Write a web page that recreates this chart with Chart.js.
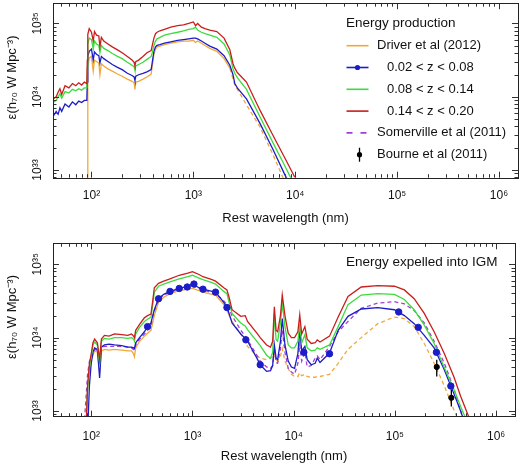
<!DOCTYPE html>
<html lang="en">
<head>
<meta charset="UTF-8">
<title>Energy production and energy expelled into IGM</title>
<script src="https://cdn.jsdelivr.net/npm/chart.js"></script>
<style>
  html, body { margin: 0; padding: 0; background: #fff; }
  .panel { position: absolute; left: 0; width: 520px; }
  #top { top: 0; height: 232px; }
  #bottom { top: 232px; height: 236px; }
</style>
</head>
<body>
<div class="panel" id="top"><canvas id="prodChart" width="520" height="232"></canvas></div>
<div class="panel" id="bottom"><canvas id="igmChart" width="520" height="236"></canvas></div>
<script>
// ---- data (wavelength in nm, values are log10 of epsilon in h70 W Mpc^-3) ----
const xTickExp = [2, 3, 4, 5, 6];
const yTickExp = [33, 34, 35];

// top panel: energy production
const prodWl = [42, 45, 47, 49, 51, 55, 60, 65, 70, 75, 80, 85, 90, 91, 92, 95, 100, 104, 107, 112,
  118, 121, 125, 132, 145, 160, 180, 200, 225, 250, 262, 267, 272, 290, 320, 350, 385, 395, 410, 425,
  440, 470, 520, 600, 700, 800, 900, 1000, 1050, 1100, 1200, 1300, 1450, 1700, 2000, 2280, 2450, 2550, 2700, 3320,
  4490, 6000, 8000, 9900];
const prodRed = [33.97, 34.00, 34.06, 34.11, 34.03, 34.15, 34.12, 34.18, 34.15, 34.19, 34.16, 34.20, 34.18,
  34.50, 34.85, 34.93, 34.88, 34.76, 34.89, 34.84, 34.83, 34.68, 34.81, 34.76, 34.72, 34.68,
  34.64, 34.60, 34.55, 34.50, 34.47, 34.42, 34.48, 34.50, 34.55, 34.60, 34.63, 34.70, 34.80,
  34.86, 34.88, 34.90, 34.92, 34.95, 34.97, 34.98, 35.00, 35.02, 34.97, 35.00, 34.95, 34.93,
  34.91, 34.89, 34.80, 34.64, 34.45, 34.39, 34.33, 34.20, 33.82, 33.48, 33.15, 32.90];
const prodGreen = [33.92, 33.95, 34.00, 34.04, 33.98, 34.07, 34.05, 34.10, 34.08, 34.11, 34.09, 34.12, 34.12,
  34.40, 34.72, 34.80, 34.78, 34.65, 34.76, 34.72, 34.70, 34.60, 34.70, 34.66, 34.63, 34.59,
  34.55, 34.52, 34.47, 34.43, 34.41, 34.36, 34.42, 34.44, 34.47, 34.51, 34.55, 34.60, 34.70,
  34.76, 34.79, 34.81, 34.84, 34.86, 34.88, 34.90, 34.92, 34.93, 34.95, 34.91, 34.88, 34.86,
  34.84, 34.81, 34.72, 34.57, 34.38, 34.32, 34.26, 34.10, 33.73, 33.38, 33.04, 32.78];
const prodBlue = [33.73, 33.80, 33.76, 33.85, 33.80, 33.90, 33.86, 33.93, 33.89, 33.94, 33.92, 33.95, 33.95,
  34.20, 34.55, 34.62, 34.65, 34.50, 34.61, 34.58, 34.56, 34.46, 34.55, 34.52, 34.48, 34.44,
  34.40, 34.37, 34.32, 34.29, 34.27, 34.22, 34.28, 34.30, 34.32, 34.34, 34.37, 34.47, 34.62,
  34.68, 34.70, 34.71, 34.73, 34.75, 34.77, 34.78, 34.79, 34.80, 34.80, 34.79, 34.76, 34.73,
  34.69, 34.65, 34.56, 34.43, 34.30, 34.18, 34.12, 33.97, 33.64, 33.29, 32.92, 32.70];
const prodOrange = [null, null, null, null, null, null, null, null, null, null, null, null, null,
  32.50, 34.40, 34.53, 34.55, 34.35, 34.50, 34.48, 34.46, 34.30, 34.45, 34.42, 34.38, 34.35,
  34.31, 34.28, 34.24, 34.21, 34.19, 34.10, 34.20, 34.21, 34.24, 34.27, 34.31, 34.42, 34.58,
  34.65, 34.68, 34.69, 34.71, 34.73, 34.75, 34.76, 34.76, 34.77, 34.74, 34.76, 34.73, 34.70,
  34.66, 34.62, 34.52, 34.39];
const prodOrangeDashWl = [2280, 2550, 3320, 4490, 6000, 7550, 9000];
const prodOrangeDash = [34.39, 34.16, 33.89, 33.59, 33.22, 32.90, 32.70];

// bottom panel: energy expelled into IGM
const igmWl = [83, 88, 92, 96, 100, 104, 108, 115, 121, 126,
  135, 150, 170, 200, 230, 250, 262, 267, 275, 300,
  335, 360, 389, 405, 420, 462, 520, 600, 740, 900,
  1000, 1160, 1270, 1560, 1690, 2040, 2190, 2300, 2460, 3000,
  3320, 3500, 4330, 4670, 5400, 5900, 6200, 6440, 6700, 6940,
  7400, 7710, 8200, 8830, 9500, 10200, 11000, 11480, 12000, 12900,
  13600, 14900, 16300, 17100, 18200, 22600, 27500, 34400, 46500, 67700,
  98900, 124000, 155000, 195000, 244000, 306000, 384000, 446000, 499000, 540000,
  600000];
const igmRed = [null, 32.60, 33.35, 33.65, 33.78, 33.93, 33.98, 33.93, 33.70, 33.98,
  34.03, 34.02, 34.05, 34.04, 34.03, 34.05, 34.02, 34.00, 34.10, 34.18,
  34.27, 34.30, 34.32, 34.50, 34.68, 34.74, 34.77, 34.80, 34.85, 34.88,
  34.90, 34.86, 34.83, 34.79, 34.77, 34.68, 34.65, 34.55, 34.38, 34.29,
  34.30, 34.22, 34.06, 34.00, 33.90, 33.87, 33.95, 34.42, 34.10, 34.08,
  34.30, 34.58, 34.30, 34.06, 34.00, 34.00, 34.08, 34.31, 34.05, 34.15,
  33.98, 33.92, 33.93, 33.97, 33.94, 34.02, 34.28, 34.56, 34.69, 34.71,
  34.70, 34.65, 34.53, 34.33, 34.08, 33.79, 33.46, 33.20, 33.03, 32.91,
  32.70];
const igmGreen = [null, 32.60, 33.30, 33.60, 33.74, 33.90, 33.94, 33.90, 33.65, 33.95,
  33.99, 33.98, 34.00, 34.00, 33.99, 34.00, 33.98, 33.95, 34.05, 34.14,
  34.22, 34.25, 34.28, 34.45, 34.62, 34.70, 34.73, 34.76, 34.80, 34.83,
  34.85, 34.81, 34.79, 34.75, 34.73, 34.63, 34.60, 34.48, 34.33, 34.20,
  34.16, 34.11, 33.95, 33.89, 33.76, 33.72, 33.80, 34.33, 33.97, 33.95,
  34.20, 34.47, 34.15, 33.90, 33.86, 33.86, 33.95, 34.17, 33.93, 34.04,
  33.86, 33.82, 33.83, 33.86, 33.84, 33.90, 34.15, 34.45, 34.58, 34.60,
  34.59, 34.52, 34.38, 34.17, 33.92, 33.60, 33.29, 33.06, 32.90, 32.75,
  32.55];
const igmBlue = [null, null, 32.70, 33.35, 33.65, 33.80, 33.86, 33.84, 33.45, 33.87,
  33.90, 33.91, 33.90, 33.89, 33.87, 33.87, 33.86, 33.85, 33.93, 34.00,
  34.08, 34.15, 34.20, 34.30, 34.38, 34.53, 34.59, 34.63, 34.67, 34.70,
  34.73, 34.68, 34.66, 34.63, 34.62, 34.48, 34.41, 34.33, 34.20, 34.05,
  33.99, 33.95, 33.72, 33.63, 33.54, 33.55, 33.62, 33.90, 33.72, 33.70,
  33.95, 34.26, 33.90, 33.68, 33.60, 33.58, 33.78, 34.11, 33.82, 33.88,
  33.70, 33.63, 33.65, 33.72, 33.66, 33.79, 34.10, 34.29, 34.39, 34.41,
  34.38, 34.30, 34.19, 34.03, 33.86, 33.57, 33.23, 33.00, 32.80, 32.60,
  null];
const igmPurple = [32.60, 33.10, 33.50, 33.68, 33.74, 33.80, 33.84, 33.83, 33.70, 33.86,
  33.88, 33.88, 33.88, 33.88, 33.87, 33.86, 33.84, 33.83, 33.90, 33.98,
  34.05, 34.10, 34.16, 34.28, 34.36, 34.52, 34.58, 34.62, 34.66, 34.69,
  34.70, 34.67, 34.65, 34.61, 34.60, 34.50, 34.45, 34.38, 34.30, 34.10,
  34.02, 33.97, 33.76, 33.68, 33.60, 33.58, 33.62, 33.85, 33.66, 33.65,
  33.85, 34.10, 33.80, 33.58, 33.53, 33.50, 33.65, 33.90, 33.68, 33.80,
  33.60, 33.62, 33.72, 33.75, 33.70, 33.88, 34.08, 34.22, 34.40, 34.47,
  34.49, 34.46, 34.37, 34.20, 33.95, 33.66, 33.30, 33.00, 32.80, 32.60,
  null];
// Driver et al: solid over the first part of igmWl, dashed beyond
const igmOrange = [null, 32.60, 33.30, 33.55, 33.70, 33.76, 33.82, 33.80, 33.55, 33.82,
  33.84, 33.83, 33.84, 33.83, 33.82, 33.82, 33.78, 33.74, 33.86, 33.95,
  34.02, 34.06, 34.10, 34.20, 34.30, 34.48, 34.55, 34.60, 34.64, 34.66,
  34.67, 34.64, 34.62, 34.59, 34.58, 34.45, 34.38, 34.30, 34.22];
const igmOrangeDashWl = [2460, 3000, 3320, 3500, 4330, 4670, 5400, 5900, 6200, 6440,
  6700, 6940, 7400, 7710, 8200, 8830, 9500, 10200, 11000, 11480,
  12000, 12900, 13600, 14900, 16300, 17100, 18200, 22600, 27500, 34400,
  46500, 67700, 98900, 124000, 155000, 195000, 244000, 306000, 384000, 446000];
const igmOrangeDash = [34.22, 34.05, 33.93, 33.88, 33.75, 33.72, 33.70, 33.72, 33.74, 33.78,
  33.70, 33.68, 33.75, 33.85, 33.68, 33.58, 33.50, 33.47, 33.47, 33.52,
  33.48, 33.50, 33.47, 33.46, 33.46, 33.47, 33.47, 33.50, 33.65, 33.84,
  34.00, 34.19, 34.28, 34.26, 34.15, 33.92, 33.65, 33.35, 33.01, 32.80];
// 0.02 < z < 0.08 measured points
const dotWl = [360, 462, 600, 740, 888, 1034, 1270, 1690, 2190, 3370, 4670, 12600, 22600, 109000, 170000, 257000, 357000];
const dotVal = [34.15, 34.53, 34.63, 34.67, 34.69, 34.73, 34.66, 34.62, 34.41, 33.97, 33.63, 33.80, 33.78, 34.35, 34.14, 33.80, 33.34];
// Bourne et al (2011)
const bourneWl = [259000, 361000];
const bourneVal = [33.60, 33.18];
const bourneLo = [33.47, 33.06];
const bourneHi = [33.70, 33.29];

const legendNames = ['Driver et al (2012)', '0.02 < z < 0.08', '0.08 < z < 0.14', '0.14 < z < 0.20',
  'Somerville et al (2011)', 'Bourne et al (2011)'];

// ---- styling ----
const FONT = '"Liberation Sans", Arial, Helvetica, sans-serif';
const ORANGE = '#f0a83a', BLUE = '#1c1cc8', GREEN = '#3ddc3d', RED = '#c81f1c', PURPLE = '#a040d4';
const SUP = { '0': '⁰', '1': '¹', '2': '²', '3': '³', '4': '⁴', '5': '⁵', '6': '⁶', '7': '⁷', '8': '⁸', '9': '⁹', '-': '⁻' };
const pow10Label = v => '10' + String(Math.round(Math.log10(v))).split('').map(c => SUP[c]).join('');

const pts = (wl, vals) => vals.map((v, i) => ({ x: wl[i], y: v == null ? null : Math.pow(10, v) }));
const line = (label, wl, vals, color, dash) => ({
  label, data: pts(wl, vals), borderColor: color, borderWidth: 1.3,
  borderDash: dash || [], pointRadius: 0, fill: false, tension: 0
});

// box and inward tick marks on all four sides
const frame = {
  id: 'frame',
  afterDraw(chart) {
    const { ctx, chartArea: a, scales: { x, y } } = chart;
    const marks = (lo, hi) => {
      const out = [];
      for (let e = Math.floor(Math.log10(lo)); e <= Math.ceil(Math.log10(hi)); e++) {
        for (let m = 1; m < 10; m++) {
          const v = m * Math.pow(10, e);
          if (v >= lo && v <= hi) out.push([v, m === 1]);
        }
      }
      return out;
    };
    ctx.save();
    ctx.strokeStyle = '#333';
    ctx.lineWidth = 1;
    ctx.beginPath();
    marks(x.min, x.max).forEach(([v, major]) => {
      const p = Math.round(x.getPixelForValue(v)) + 0.5, len = major ? 6 : 3.5;
      ctx.moveTo(p, a.bottom); ctx.lineTo(p, a.bottom - len);
      ctx.moveTo(p, a.top); ctx.lineTo(p, a.top + len);
    });
    marks(y.min, y.max).forEach(([v, major]) => {
      const p = Math.round(y.getPixelForValue(v)) + 0.5, len = major ? 6 : 3.5;
      ctx.moveTo(a.left, p); ctx.lineTo(a.left + len, p);
      ctx.moveTo(a.right, p); ctx.lineTo(a.right - len, p);
    });
    ctx.stroke();
    ctx.strokeStyle = '#222';
    ctx.strokeRect(Math.round(a.left) + 0.5, Math.round(a.top) + 0.5,
      Math.round(a.right - a.left), Math.round(a.bottom - a.top));
    ctx.restore();
  }
};

// Bourne et al error bars, from the data through the scales
const errorBars = {
  id: 'errorBars',
  afterDatasetsDraw(chart) {
    const { ctx, scales: { x, y } } = chart;
    ctx.save();
    ctx.strokeStyle = '#000';
    ctx.lineWidth = 1.3;
    bourneWl.forEach((w, i) => {
      const px = x.getPixelForValue(w);
      ctx.beginPath();
      ctx.moveTo(px, y.getPixelForValue(Math.pow(10, bourneLo[i])));
      ctx.lineTo(px, y.getPixelForValue(Math.pow(10, bourneHi[i])));
      ctx.stroke();
    });
    ctx.restore();
  }
};

const legendBox = {
  id: 'legendBox',
  afterDraw(chart) {
    const ctx = chart.ctx;
    ctx.save();
    ctx.textBaseline = 'middle';
    ctx.fillStyle = '#111';
    ctx.font = '13.5px ' + FONT;
    ctx.fillText('Energy production', 346, 23);
    ctx.font = '13px ' + FONT;
    const styles = [
      { color: ORANGE }, { color: BLUE, dot: true }, { color: GREEN }, { color: RED },
      { color: PURPLE, dash: [6, 8] }, { bar: true }
    ];
    legendNames.forEach((name, i) => {
      const yy = 45.7 + i * 21.8, s = styles[i];
      if (s.bar) {
        ctx.strokeStyle = '#000'; ctx.lineWidth = 1.3;
        ctx.beginPath(); ctx.moveTo(359.5, yy - 7); ctx.lineTo(359.5, yy + 7); ctx.stroke();
        ctx.fillStyle = '#000';
        ctx.beginPath(); ctx.arc(359.5, yy, 2.6, 0, 2 * Math.PI); ctx.fill();
      } else {
        ctx.strokeStyle = s.color; ctx.lineWidth = 1.6;
        ctx.setLineDash(s.dash || []);
        ctx.beginPath(); ctx.moveTo(346.5, yy); ctx.lineTo(368.5, yy); ctx.stroke();
        ctx.setLineDash([]);
        if (s.dot) {
          ctx.fillStyle = s.color;
          ctx.beginPath(); ctx.arc(357.5, yy, 2.6, 0, 2 * Math.PI); ctx.fill();
        }
      }
      ctx.fillStyle = '#111';
      ctx.fillText(name, i >= 1 && i <= 3 ? 387 : 377, yy);
    });
    ctx.restore();
  }
};

const panelNote = {
  id: 'panelNote',
  afterDraw(chart) {
    const ctx = chart.ctx;
    ctx.save();
    ctx.fillStyle = '#111';
    ctx.textBaseline = 'middle';
    ctx.font = '13.5px ' + FONT;
    ctx.fillText('Energy expelled into IGM', 346, 30);
    ctx.restore();
  }
};

function axes(yMin, yMax, xHeight, xPad, titlePad) {
  return {
    x: {
      type: 'logarithmic', bounds: 'data', min: 41.9, max: 1.536e6,
      afterBuildTicks: s => { s.ticks = xTickExp.map(p => ({ value: Math.pow(10, p) })); },
      afterFit: s => { s.height = xHeight; },
      grid: { display: false }, border: { display: false },
      ticks: { autoSkip: false, maxRotation: 0, padding: xPad, color: '#111',
        font: { family: FONT, size: 12 }, callback: v => pow10Label(v) },
      title: { display: true, text: 'Rest wavelength (nm)', color: '#111',
        font: { family: FONT, size: 13 }, padding: { top: 0, bottom: titlePad } }
    },
    y: {
      type: 'logarithmic', bounds: 'data', min: yMin, max: yMax,
      afterBuildTicks: s => { s.ticks = yTickExp.map(p => ({ value: Math.pow(10, p) })); },
      afterFit: s => { s.width = 53; },
      grid: { display: false }, border: { display: false },
      ticks: { autoSkip: false, minRotation: 90, maxRotation: 90, crossAlign: 'center', padding: -4,
        color: '#111', font: { family: FONT, size: 12 }, callback: v => pow10Label(v) },
      title: { display: true, text: '\u2003\u2003ε(h₇₀ W Mpc⁻³)', color: '#111',
        font: { family: FONT, size: 13 }, padding: { top: 5, bottom: 0 } }
    }
  };
}

const common = {
  responsive: false, animation: false, devicePixelRatio: 1,
  plugins: { legend: { display: false }, tooltip: { enabled: false } }
};

new Chart(document.getElementById('prodChart'), {
  type: 'line',
  data: {
    datasets: [
      line('0.14 < z < 0.20', prodWl, prodRed, RED),
      line('0.08 < z < 0.14', prodWl, prodGreen, GREEN),
      line('0.02 < z < 0.08', prodWl, prodBlue, BLUE),
      line('Driver et al (2012)', prodWl, prodOrange, ORANGE),
      line('Driver et al (2012) extrapolated', prodOrangeDashWl, prodOrangeDash, ORANGE, [4, 3])
    ]
  },
  options: Object.assign({}, common, {
    layout: { padding: { top: 3, right: 2, left: 0, bottom: 0 } },
    scales: axes(7.85e32, 1.89e35, 54.3, 3, 6)
  }),
  plugins: [frame, legendBox]
});

new Chart(document.getElementById('igmChart'), {
  type: 'line',
  data: {
    datasets: [
      { label: '0.02 < z < 0.08 points', data: pts(dotWl, dotVal), showLine: false,
        pointRadius: 3.2, pointBackgroundColor: BLUE, pointBorderColor: BLUE, borderColor: BLUE },
      { label: 'Bourne et al (2011)', data: pts(bourneWl, bourneVal), showLine: false,
        pointRadius: 2.6, pointBackgroundColor: '#000', pointBorderColor: '#000', borderColor: '#000' },
      line('0.14 < z < 0.20', igmWl, igmRed, RED),
      line('0.08 < z < 0.14', igmWl, igmGreen, GREEN),
      line('0.02 < z < 0.08', igmWl, igmBlue, BLUE),
      line('Somerville et al (2011)', igmWl, igmPurple, PURPLE, [4, 3]),
      line('Driver et al (2012)', igmWl.slice(0, igmOrange.length), igmOrange, ORANGE),
      line('Driver et al (2012) extrapolated', igmOrangeDashWl, igmOrangeDash, ORANGE, [4, 3])
    ]
  },
  options: Object.assign({}, common, {
    layout: { padding: { top: 11.3, right: 2, left: 0, bottom: 0 } },
    scales: axes(8.36e32, 1.93e35, 51.3, 5, 3.5)
  }),
  plugins: [frame, errorBars, panelNote]
});
</script>
</body>
</html>
